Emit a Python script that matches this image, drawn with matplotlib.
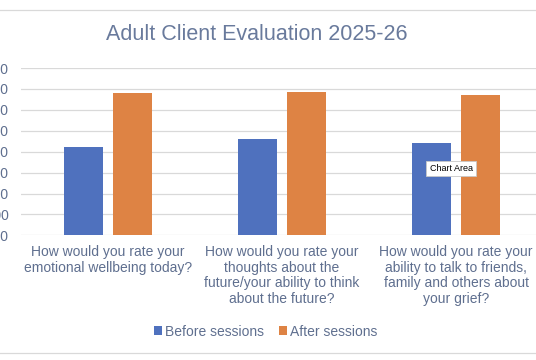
"""Adult client evaluation bar chart."""
import numpy as np
import matplotlib
matplotlib.use("Agg")
import matplotlib.pyplot as plt
from matplotlib.lines import Line2D

questions = [
    "How would you rate your\nemotional wellbeing today?",
    "How would you rate your\nthoughts about the\nfuture/your ability to think\nabout the future?",
    "How would you rate your\nability to talk to friends,\nfamily and others about\nyour grief?",
]
before = [4.24, 4.59, 4.40]
after = [6.79, 6.84, 6.73]
y_ticks = [0, 1, 2, 3, 4, 5, 6, 7, 8]

BLUE = "#4F71BE"
ORANGE = "#DE8344"
TEXT = "#5f6f8f"
GRID = "#d9d9d9"

plt.rcParams["font.family"] = ["Liberation Sans", "DejaVu Sans"]

fig = plt.figure(figsize=(5.36, 3.6), dpi=100)
ax = fig.add_axes([21 / 536, 1 - 235.3 / 360, 522 / 536, 167.2 / 360])

x = np.arange(len(questions))
w = 0.222
ax.bar(x - 0.142, before, w, color=BLUE, label="Before sessions", zorder=3)
ax.bar(x + 0.142, after, w, color=ORANGE, label="After sessions", zorder=3)

ax.set_xlim(-0.5, 2.5)
ax.set_ylim(0, 8)
ax.set_yticks(y_ticks)
ax.set_yticklabels([f"{v:.2f}" for v in y_ticks])
ax.set_xticks(x)
ax.set_xticklabels(questions, linespacing=1.15)
ax.tick_params(axis="x", length=0, pad=7, labelsize=10, labelcolor=TEXT)
ax.tick_params(axis="y", length=0, pad=9, labelsize=10, labelcolor=TEXT)
ax.grid(axis="y", color=GRID, linewidth=0.9, zorder=0)
for s in ax.spines.values():
    s.set_visible(False)

fig.text(257 / 536, 1 - 35 / 360, "Adult Client Evaluation 2025-26",
         ha="center", va="center", fontsize=15.5, color="#697a9c")

fig.legend(loc="center", bbox_to_anchor=(265.5 / 536, 1 - 331.7 / 360),
           ncol=2, frameon=False, fontsize=10, labelcolor=TEXT,
           handlelength=0.6, handleheight=0.6, handletextpad=0.2,
           columnspacing=1.1, borderpad=0)

# chart frame edges (top and bottom visible in the crop)
for yy in (1 - 10 / 360, 1 - 352.5 / 360):
    fig.add_artist(Line2D([0, 1], [yy, yy], transform=fig.transFigure,
                          color=GRID, linewidth=0.9))

# hover tooltip
fig.text(451 / 536, 1 - 168.3 / 360, "Chart Area", ha="center", va="center",
         fontsize=6.5, color="black", zorder=10,
         bbox=dict(boxstyle="square,pad=0.35", facecolor="white",
                   edgecolor="#c8c8c8", linewidth=0.6))

fig.savefig("out.png", dpi=100)
